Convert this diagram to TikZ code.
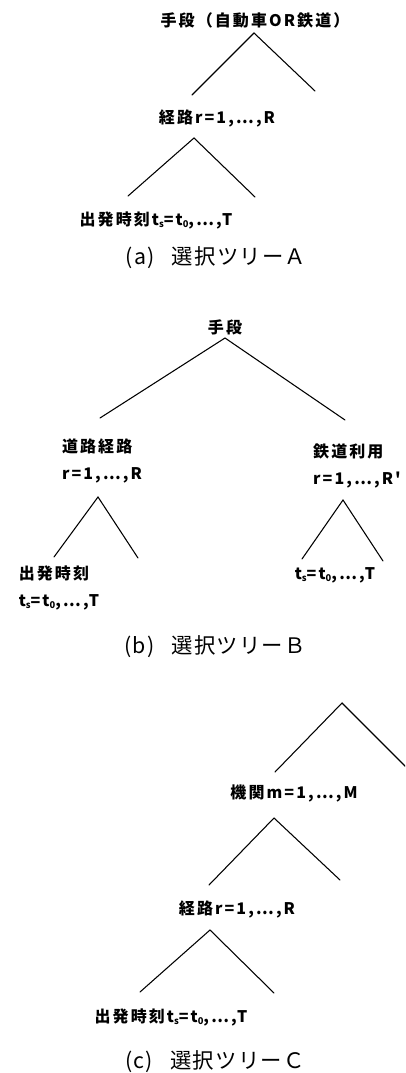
\documentclass[tikz,border=0pt]{standalone}
\usepackage{fontspec}
\newfontfamily\jplabel{Noto Sans CJK JP}[LetterSpace=13]
\newfontfamily\jpcap{Noto Sans CJK JP}[LetterSpace=6]
\newcommand{\subidx}[1]{\raisebox{-0.3ex}{\fontsize{7}{7}\selectfont #1}}

\tikzset{
  lbl/.style={inner sep=0pt, align=left, font=\jplabel\bfseries\fontsize{12}{20}\selectfont},
  treecap/.style={inner sep=0pt, font=\jpcap\fontsize{16}{18}\selectfont},
  branch/.style={line width=0.8pt, line cap=round}
}

\begin{document}
\begin{tikzpicture}[x=0.75pt,y=-0.75pt]
\clip (0,0) rectangle (405,1073);

\node[lbl] (topA) at (255,20) {手段（自動車OR鉄道）};
\node[lbl] (routeA) at (217,118) {経路r=1,…,R};
\node[lbl] (timeA) at (156,220) {出発時刻t\subidx{s}=t\subidx{0},…,T};
\node[treecap] (capA) at (216,258) {(a)\hspace{0.8em}選択ツリーＡ};

\coordinate (A1) at (254,33);
\coordinate (A1l) at (192,95);
\coordinate (A1r) at (315,91);
\coordinate (A2) at (194,138);
\coordinate (A2l) at (128,196);
\coordinate (A2r) at (255,197);
\draw[branch] (A1l) -- (A1) -- (A1r);
\draw[branch] (A2l) -- (A2) -- (A2r);

\node[lbl] (topB) at (225,327) {手段};
\node[lbl] (roadB) at (102,461) {道路経路\\r=1,…,R};
\node[lbl] (railB) at (357,466) {鉄道利用\\r=1,…,R'};
\node[lbl] (timeB) at (59,588) {出発時刻\\t\subidx{s}=t\subidx{0},…,T};
\node[lbl] (timeBr) at (335,575) {t\subidx{s}=t\subidx{0},…,T};
\node[treecap] (capB) at (215,647) {(b)\hspace{0.8em}選択ツリーＢ};

\coordinate (B1) at (225,338);
\coordinate (B1l) at (100,418);
\coordinate (B1r) at (345,420);
\coordinate (B2) at (98,497);
\coordinate (B2l) at (54,557);
\coordinate (B2r) at (138,558);
\coordinate (B3) at (343,500);
\coordinate (B3l) at (302,559);
\coordinate (B3r) at (383,561);
\draw[branch] (B1l) -- (B1) -- (B1r);
\draw[branch] (B2l) -- (B2) -- (B2r);
\draw[branch] (B3l) -- (B3) -- (B3r);

\node[lbl] (modeC) at (294,793) {機関m=1,…,M};
\node[lbl] (routeC) at (237,909) {経路r=1,…,R};
\node[lbl] (timeC) at (171,1017) {出発時刻t\subidx{s}=t\subidx{0},…,T};
\node[treecap] (capC) at (215,1062) {(c)\hspace{0.8em}選択ツリーＣ};

\coordinate (C1) at (342,703);
\coordinate (C1l) at (275,772);
\coordinate (C1r) at (411,772);
\coordinate (C2) at (274,818);
\coordinate (C2l) at (209,885);
\coordinate (C2r) at (340,880);
\coordinate (C3) at (210,930);
\coordinate (C3l) at (140,992);
\coordinate (C3r) at (274,993);
\draw[branch] (C1l) -- (C1) -- (C1r);
\draw[branch] (C2l) -- (C2) -- (C2r);
\draw[branch] (C3l) -- (C3) -- (C3r);
\end{tikzpicture}
\end{document}
